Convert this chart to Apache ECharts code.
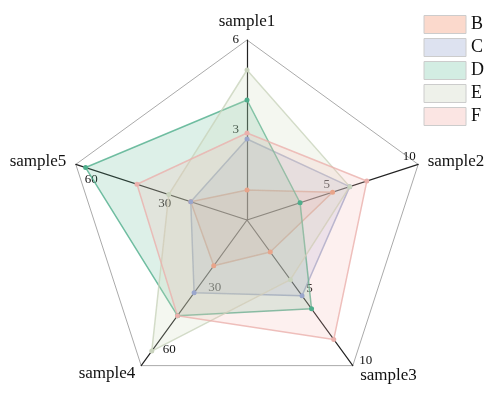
<!DOCTYPE html>
<html><head><meta charset="utf-8">
<script src="https://cdn.jsdelivr.net/npm/echarts@6/dist/echarts.min.js"></script>
<style>html,body{margin:0;padding:0;background:#fff}#c{width:497px;height:401px}</style>
</head><body><div id="c"></div>
<script>
var indicatorNames = ['sample1','sample2','sample3','sample4','sample5'];
var indicatorMax = [6, 10, 10, 70, 70];
var tickLabels = [[3,6],[5,10],[5,10],[30,60],[30,60]];
var seriesNames = ['B','C','D','E','F'];
var valuesB = [1.0, 5.0, 2.2, 22, 23];
var valuesC = [2.7, 6.0, 5.2, 35, 23];
var valuesD = [4.0, 3.1, 6.1, 46, 66];
var valuesE = [5.0, 6.0, 4.1, 63, 32];
var valuesF = [2.9, 7.0, 8.2, 46, 45];
var allValues = [valuesB, valuesC, valuesD, valuesE, valuesF];
var lineColors = ['#e8a48a','#9aa6cc','#4fae8c','#c9d3bd','#eab0ac'];
var fillColors = ['rgba(244,160,130,0.30)','rgba(160,172,215,0.30)','rgba(80,180,140,0.28)','rgba(205,215,185,0.30)','rgba(245,180,175,0.28)'];
var legendFill = ['#fbd9cc','#dde2f0','#d3ede3','#eef1ea','#fbe5e3'];
// ECharts places indicators counter-clockwise; reorder to draw clockwise
var order = [0,4,3,2,1];

var font = 'Liberation Serif';
var indicator = order.map(function(i){
  var ticks = tickLabels[i];
  return {name:indicatorNames[i], max:indicatorMax[i], min:0,
    axisLabel:{show:true, color:'#111', fontFamily:font, fontSize:13,
      formatter:function(v){for(var k=0;k<ticks.length;k++){if(Math.abs(v-ticks[k])<1e-6)return String(ticks[k]);}return '';}}};
});
var chart = echarts.init(document.getElementById('c'));
chart.setOption({
  animation:false,
  legend:{orient:'vertical', right:8, top:10, itemWidth:42, itemHeight:18, itemGap:4,
    icon:'rect',
    textStyle:{fontFamily:font, fontSize:18, color:'#111'},
    data:seriesNames.map(function(n,i){return {name:n, itemStyle:{color:legendFill[i], borderColor:'#ccc', borderWidth:1}};})},
  radar:[{
    center:[247,220], radius:180, startAngle:90, splitNumber:14, shape:'polygon',
    indicator:indicator,
    axisName:{color:'#111', fontFamily:font, fontSize:17},
    nameGap:10,
    axisLine:{lineStyle:{color:'#222', width:1.2}},
    splitLine:{show:false}, splitArea:{show:false},
    axisLabel:{show:true}
  },{
    center:[247,220], radius:180, startAngle:90, splitNumber:1, shape:'polygon',
    indicator:order.map(function(i){return {name:'', max:indicatorMax[i]};}),
    axisLine:{show:false}, splitArea:{show:false},
    splitLine:{lineStyle:{color:'#aaa', width:1}}, axisName:{show:false}
  }],
  series:[{
    type:'radar', radarIndex:0, symbol:'circle', symbolSize:5,
    data:seriesNames.map(function(n,i){return {name:n, value:order.map(function(j){return allValues[i][j];}),
      lineStyle:{color:lineColors[i], width:1.5, opacity:0.8},
      itemStyle:{color:lineColors[i]},
      areaStyle:{color:fillColors[i]}};})
  }]
});
</script></body></html>
